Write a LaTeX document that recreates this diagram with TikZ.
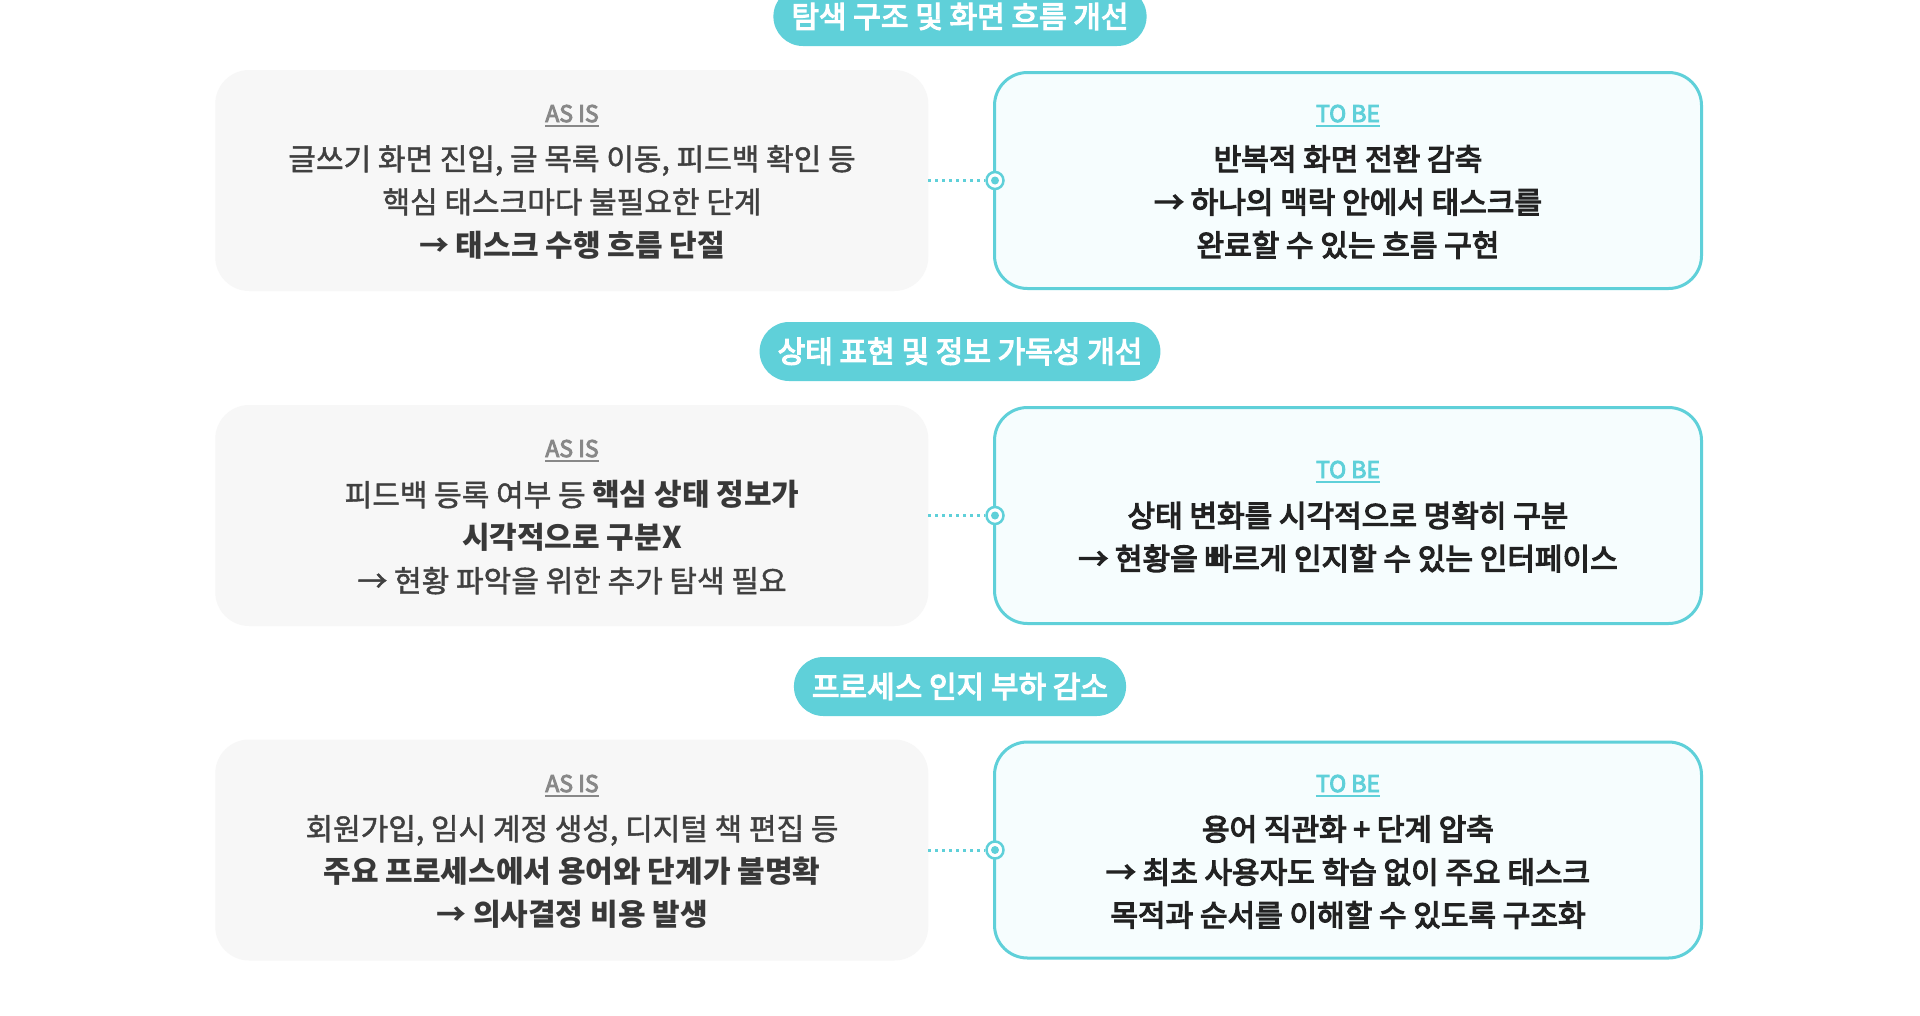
\documentclass[tikz,border=0pt]{standalone}
\usepackage{fontspec}
\setmainfont{Noto Sans CJK KR}
\newfontfamily\regw[FakeBold=1.5]{Noto Sans CJK KR}
\newfontfamily\medw[FakeBold=4]{Noto Sans CJK KR}
\newfontfamily\plainw{Noto Sans CJK KR}
\newcommand{\semiw}{\plainw\bfseries}
\definecolor{tealc}{HTML}{5FD0D9}
\definecolor{asfill}{HTML}{F7F7F7}
\definecolor{tofill}{HTML}{F6FDFE}
\definecolor{astext}{HTML}{404040}
\definecolor{asbold}{HTML}{383838}
\definecolor{totext}{HTML}{222222}
\definecolor{labgray}{HTML}{888888}
\tikzset{
  asbox/.style={fill=asfill, rounded corners=34pt, minimum width=713pt, minimum height=221pt, inner sep=0pt},
  tobox/.style={draw=tealc, line width=3pt, fill=tofill, rounded corners=33pt, minimum width=707pt, minimum height=216pt, inner sep=0pt},
  pill/.style={fill=tealc, rounded corners=29.5pt, minimum height=59pt, inner xsep=18pt, inner ysep=0pt, text=white, font=\fontsize{30}{36}\medw},
  aslab/.style={anchor=base, inner sep=0pt, text=labgray, font=\fontsize{23}{28}\medw},
  tolab/.style={anchor=base, inner sep=0pt, text=tealc, font=\fontsize{23}{28}\medw},
  astxt/.style={align=center, inner sep=0pt, text=astext, font=\fontsize{30}{43}\regw},
  totxt/.style={align=center, inner sep=0pt, text=totext, font=\fontsize{30}{43}\medw},
  dotc/.style={circle, draw=tealc, line width=2.5pt, fill=white, minimum size=17pt, inner sep=0pt},
  dotin/.style={circle, fill=tealc, minimum size=8pt, inner sep=0pt},
  link/.style={draw=tealc, line width=3pt, dash pattern=on 3pt off 4pt},
  asul/.style={draw=labgray, line width=2pt},
  toul/.style={draw=tealc, line width=2pt}
}
\newcommand{\asb}[1]{{\semiw\color{asbold}#1}}
\begin{document}
\begin{tikzpicture}[x=1pt,y=-1pt]
\useasboundingbox[fill=white] (0,0) rectangle (1920,1015);

% ---------- row 1 ----------
\node[pill] (p1) at (960,16.5) {탐색 구조 및 화면 흐름 개선};
\node[asbox] (as1) at (571.75,180.5) {};
\node[tobox] (tb1) at (1348,180.5) {};
\node[aslab] (al1) at (572,122) {AS IS};
\draw[asul] ([yshift=-4pt]al1.base west) -- ([yshift=-4pt]al1.base east);
\node[tolab] (tl1) at (1348,122) {TO BE};
\draw[toul] ([yshift=-4pt]tl1.base west) -- ([yshift=-4pt]tl1.base east);
\node[astxt] (at1) at (572,202) {글쓰기 화면 진입, 글 목록 이동, 피드백 확인 등\\핵심 태스크마다 불필요한 단계\\\asb{→ 태스크 수행 흐름 단절}};
\node[totxt] (tt1) at (1348,202) {반복적 화면 전환 감축\\→ 하나의 맥락 안에서 태스크를\\완료할 수 있는 흐름 구현};
\node[dotc] (d1) at ([xshift=2pt]tb1.west) {};
\node[dotin] (di1) at (d1.center) {};
\draw[link] (as1.east) -- (d1.west);

% ---------- row 2 ----------
\node[pill] (p2) at (960,351.5) {상태 표현 및 정보 가독성 개선};
\node[asbox] (as2) at (571.75,515.5) {};
\node[tobox] (tb2) at (1348,515.5) {};
\node[aslab] (al2) at (572,457) {AS IS};
\draw[asul] ([yshift=-4pt]al2.base west) -- ([yshift=-4pt]al2.base east);
\node[tolab] (tl2) at (1348,478) {TO BE};
\draw[toul] ([yshift=-4pt]tl2.base west) -- ([yshift=-4pt]tl2.base east);
\node[astxt] (at2) at (572,537.5) {피드백 등록 여부 등 \asb{핵심 상태 정보가}\\\asb{시각적으로 구분X}\\→ 현황 파악을 위한 추가 탐색 필요};
\node[totxt] (tt2) at (1348,537) {상태 변화를 시각적으로 명확히 구분\\→ 현황을 빠르게 인지할 수 있는 인터페이스};
\node[dotc] (d2) at ([xshift=2pt]tb2.west) {};
\node[dotin] (di2) at (d2.center) {};
\draw[link] (as2.east) -- (d2.west);

% ---------- row 3 ----------
\node[pill] (p3) at (960,686.5) {프로세스 인지 부하 감소};
\node[asbox] (as3) at (571.75,850) {};
\node[tobox] (tb3) at (1348,850) {};
\node[aslab] (al3) at (572,792) {AS IS};
\draw[asul] ([yshift=-4pt]al3.base west) -- ([yshift=-4pt]al3.base east);
\node[tolab] (tl3) at (1348,792) {TO BE};
\draw[toul] ([yshift=-4pt]tl3.base west) -- ([yshift=-4pt]tl3.base east);
\node[astxt] (at3) at (572,872) {회원가입, 임시 계정 생성, 디지털 책 편집 등\\\asb{주요 프로세스에서 용어와 단계가 불명확}\\\asb{→ 의사결정 비용 발생}};
\node[totxt] (tt3) at (1348,872) {용어 직관화 + 단계 압축\\→ 최초 사용자도 학습 없이 주요 태스크\\목적과 순서를 이해할 수 있도록 구조화};
\node[dotc] (d3) at ([xshift=2pt]tb3.west) {};
\node[dotin] (di3) at (d3.center) {};
\draw[link] (as3.east) -- (d3.west);
\end{tikzpicture}
\end{document}
